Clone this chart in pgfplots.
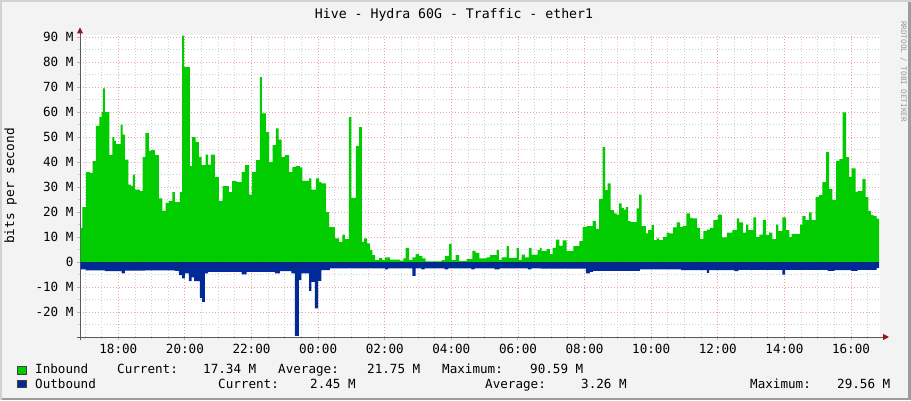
\documentclass[border=0pt]{standalone}
\usepackage{pgfplots}
\pgfplotsset{compat=1.18}
\usetikzlibrary{arrows.meta}
\usepackage{fontspec}
\setmonofont{DejaVu Sans Mono}
\newcommand\tf[1]{\fontsize{#1}{#1}\selectfont\ttfamily}
\definecolor{ingreen}{HTML}{00CC00}
\definecolor{outblue}{HTML}{002A97}
\definecolor{canvas}{HTML}{F3F3F3}
\definecolor{gridred}{HTML}{EBA3A3}
\definecolor{gridgray}{HTML}{CFCFCF}
\definecolor{axisgray}{HTML}{5A5A5A}
\definecolor{arrowred}{HTML}{8B1A1A}
\definecolor{lightborder}{HTML}{D2D2D2}
\definecolor{darkborder}{HTML}{9C9C9C}
\begin{document}
\begin{tikzpicture}[x=1pt,y=1pt]
\path[use as bounding box] (0,0) rectangle (911,400);
\fill[canvas] (0,0) rectangle (911,400);
\fill[lightborder] (0,398) rectangle (911,400);
\fill[lightborder] (0,0) rectangle (2,400);
\fill[darkborder] (908,0) rectangle (911,398);
\fill[darkborder] (2,0) rectangle (911,2.5);
\begin{axis}[
  at={(80pt,63pt)}, anchor=south west,
  scale only axis, width=800pt, height=302.5pt,
  xmin=16.85, xmax=40.87, ymin=-30, ymax=91,
  axis background/.style={fill=white},
  axis lines=left,
  axis line style={draw=axisgray, line width=1pt},
  x axis line style={-{Triangle[length=6pt,width=6pt,color=arrowred]}, shorten >=-9pt, shorten <=-3pt},
  y axis line style={-{Triangle[length=6pt,width=6pt,color=arrowred]}, shorten >=-7pt, shorten <=-3pt},
  xtick={18,20,...,40},
  xticklabels={18:00,20:00,22:00,00:00,02:00,04:00,06:00,08:00,10:00,12:00,14:00,16:00},
  minor xtick={17,17.5,...,40.5},
  ytick={-20,-10,...,90},
  yticklabels={-20 M,-10 M,0,10 M,20 M,30 M,40 M,50 M,60 M,70 M,80 M,90 M},
  minor ytick={-25,-15,...,85},
  grid=both,
  major grid style={draw=gridred, line width=0.9pt, dash pattern=on 1pt off 2pt},
  minor grid style={draw=gridgray, line width=0.9pt, dash pattern=on 1pt off 2pt},
  tick align=outside,
  major tick length=3pt, minor tick length=2pt,
  major tick style={draw=gridred, line width=1pt},
  minor tick style={draw=gridgray, line width=1pt},
  tick label style={font=\tf{12.6}, text=black},
  xticklabel style={yshift=-1pt},
  clip=false,
]
\addplot[fill=ingreen, draw=none, const plot mark left] table {
x y
16.87 13.7
16.92 22
17.03 36
17.15 35.7
17.23 40.4
17.33 54.5
17.43 58
17.50 60
17.54 69.5
17.60 60
17.73 42.8
17.82 50
17.88 48.5
17.93 47.2
18.07 55
18.13 51
18.20 41
18.30 31
18.38 30.5
18.44 35
18.50 29
18.65 28.4
18.73 42
18.81 51.6
18.92 44.5
18.98 44.8
19.10 42.8
19.22 25.5
19.32 20.5
19.42 23.7
19.52 24.5
19.62 28
19.70 24
19.85 28
19.92 90.59
19.98 78
20.15 38.4
20.22 50
20.32 48
20.42 42
20.50 38.8
20.62 43
20.70 39
20.78 43
20.90 34
21.02 24.5
21.13 30.4
21.32 28
21.42 32.4
21.55 32
21.70 36
21.80 38.8
21.93 27
22.01 36
22.13 40.8
22.25 74
22.31 59.5
22.43 52
22.53 40
22.63 46.8
22.73 53.5
22.81 49
22.90 42
23.00 42.8
23.13 36
23.23 38
23.33 38.4
23.45 37.9
23.53 32.5
23.73 33.5
23.80 29
23.93 33.5
24.03 32
24.10 31.5
24.23 20
24.33 14
24.50 9.5
24.63 8
24.73 11
24.80 9.2
24.92 58
25.00 25.7
25.13 46.4
25.23 54
25.31 8
25.38 9.5
25.47 7.5
25.55 4.8
25.63 2.8
25.71 0.8
25.83 1.7
25.93 0.8
26.01 1.9
26.16 1
26.46 0.6
26.56 1.5
26.63 5.7
26.73 0.8
26.83 1.9
26.93 3.2
27.03 2.4
27.13 1.5
27.23 0.3
27.71 0.8
27.81 2.5
27.93 7.3
28.01 0.8
28.13 2.8
28.23 0.4
28.46 1.2
28.63 4.5
28.73 3.7
28.84 1.5
29.06 1.9
29.16 2.8
29.36 4.8
29.43 0.8
29.51 1.9
29.66 6.4
29.73 1.7
29.96 5.7
30.03 0.8
30.11 3
30.21 1.9
30.33 5.7
30.41 3
30.59 4.8
30.66 5.7
30.71 4.4
30.76 4.5
30.86 5.2
30.96 3.2
31.04 5.7
31.14 9
31.24 6.5
31.34 8.7
31.46 4.4
31.66 6.4
31.84 8.4
31.94 14
32.06 14.4
32.24 16.4
32.34 13.3
32.44 25.2
32.54 46
32.62 28.8
32.69 31.5
32.78 20.8
32.88 19.5
32.96 19
33.04 23.5
33.11 21.7
33.18 21
33.24 22
33.31 16.4
33.38 16
33.56 21.5
33.64 27
33.71 14.4
33.84 11.5
33.91 12.8
34.01 14.8
34.08 8.8
34.16 9.5
34.24 8.8
34.36 10
34.46 11.8
34.54 11.5
34.66 13.9
34.76 15.9
34.86 14
34.94 14.4
35.06 19.5
35.16 17.7
35.24 17.5
35.38 13.7
35.47 9.2
35.57 12.4
35.67 13
35.77 13.7
35.87 16.8
36.00 19
36.12 9.9
36.27 11.8
36.44 12.8
36.57 17.5
36.64 15.9
36.75 11.8
36.85 15
36.92 12.8
37.07 17.9
37.15 10
37.25 11
37.35 16.8
37.45 10.8
37.54 11.8
37.64 9.2
37.75 15
37.82 12.4
37.94 17.9
38.04 12.8
38.15 10
38.22 11.3
38.47 15
38.54 18.4
38.64 16.8
38.74 19.9
38.82 16.8
38.94 26.1
39.04 26.8
39.14 32
39.25 44
39.34 29.2
39.44 24.9
39.55 40.4
39.65 41.2
39.75 59.9
39.85 42
39.94 34.1
40.02 37.5
40.14 28.1
40.20 28.5
40.34 33.2
40.44 26
40.52 20.5
40.60 18.8
40.67 18.5
40.77 17.34
40.84 17.34
} \closedcycle;
\addplot[fill=outblue, draw=none, const plot mark left] table {
x y
16.87 -2.9
17.03 -3.3
17.60 -3.6
18.10 -4.5
18.20 -3.4
18.80 -3.3
19.70 -3.5
19.82 -5.2
19.92 -6.5
20.00 -4.5
20.12 -7.6
20.20 -6.1
20.28 -7.6
20.45 -14.3
20.52 -15.9
20.60 -4.5
20.70 -3.9
21.70 -4.9
21.85 -3.9
22.70 -4.5
22.85 -3.6
23.20 -4.5
23.30 -29.56
23.42 -7.2
23.50 -4.5
23.73 -11.5
23.80 -7.9
23.90 -18.5
24.00 -7.5
24.10 -3.2
24.35 -2.5
26.01 -2.9
26.10 -2.5
26.83 -5.5
26.93 -2.5
27.10 -2.9
27.20 -2.5
27.80 -2.9
27.90 -2.5
28.60 -2.9
28.70 -2.5
29.30 -2.9
29.45 -2.5
30.30 -2.9
30.40 -2.5
30.70 -2.6
32.04 -4.5
32.16 -3.9
32.26 -3.5
33.66 -2.9
34.90 -3.2
35.67 -4.3
35.74 -3.2
36.50 -3.6
36.62 -3.1
37.94 -5
38.02 -3.1
39.30 -3.5
39.50 -3.2
40.00 -3.5
40.20 -3.1
40.77 -2.45
40.84 -2.45
} \closedcycle;
\addplot[draw=black!85, line width=0.7pt, dash pattern=on 1pt off 1.5pt] coordinates {(16.87,0) (40.84,0)};
\end{axis}
% title
\node[anchor=base, inner sep=0, font=\tf{13.2}] at (454,381) {Hive - Hydra 60G - Traffic - ether1};
% y label
\node[rotate=90, inner sep=0, font=\tf{12.8}] at (10.5,214) {bits per second};
% credit
\node[rotate=-90, anchor=west, inner sep=0, font=\tf{7.6}, text=black!40] at (903.5,379) {RRDTOOL / TOBI OETIKER};
% legend
\filldraw[fill=ingreen, draw=black!75, line width=0.8pt] (17.5,26) rectangle (26.5,33.5);
\filldraw[fill=outblue, draw=black!75, line width=0.8pt] (17.5,12.5) rectangle (26.5,20);
\begin{scope}[every node/.style={anchor=base west, inner sep=0, font=\tf{12.6}}]
\node at (35,27) {Inbound};
\node at (117,27) {Current:};
\node at (203,27) {17.34 M};
\node at (278,27) {Average:};
\node at (367,27) {21.75 M};
\node at (442,27) {Maximum:};
\node at (530,27) {90.59 M};
\node at (35,12) {Outbound};
\node at (218,12) {Current:};
\node at (310,12) {2.45 M};
\node at (485,12) {Average:};
\node at (581,12) {3.26 M};
\node at (750,12) {Maximum:};
\node at (837,12) {29.56 M};
\end{scope}
\end{tikzpicture}
\end{document}
